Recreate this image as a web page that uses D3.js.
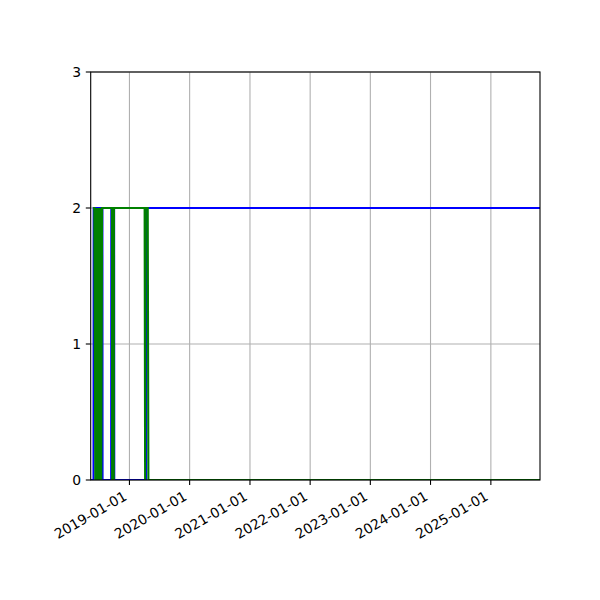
<!DOCTYPE html>
<html>
<head>
<meta charset="utf-8">
<script src="https://cdn.jsdelivr.net/npm/d3@7"></script>
<style>
  body { margin: 0; background: #fff; }
  svg text { font-family: "DejaVu Sans", sans-serif; font-size: 13.9px; fill: #000; }
</style>
</head>
<body>
<div id="chart"></div>
<script>
// ─── DATA ──────────────────────────────────────────────────────
const blueDates = ["2018-05-01", "2018-05-28", "2018-05-29", "2018-07-21", "2018-07-22",
                   "2018-09-12", "2018-09-13", "2018-09-30", "2018-10-01",
                   "2019-04-13", "2019-04-15", "2025-12-31"];
const blueValues = [0, 0, 2, 2, 0, 0, 2, 2, 0, 0, 2, 2];

const greenDates = ["2018-05-25", "2018-06-02", "2018-06-08", "2018-06-14", "2018-06-20",
                    "2018-06-26", "2018-07-02", "2018-07-08", "2018-07-14", "2018-07-19",
                    "2018-09-17", "2018-09-18", "2018-09-28", "2018-09-29",
                    "2019-04-03", "2019-04-06", "2019-04-09", "2019-04-22", "2019-04-26",
                    "2025-12-31"];
const greenValues = [2, 2, 0, 2, 0, 2, 0, 2, 0, 2, 2, 0, 0, 2, 2, 0, 2, 2, 0, 0];

const xDomain = ["2018-05-11", "2025-10-26"];
const xTickDates = ["2019-01-01", "2020-01-01", "2021-01-01", "2022-01-01",
                    "2023-01-01", "2024-01-01", "2025-01-01"];
const yTicks = [0, 1, 2, 3];

const width = 600, height = 600;
const plotLeft = 90.7, plotRight = 540, plotTop = 72, plotBottom = 480;

const parse = d3.utcParse("%Y-%m-%d");
const fmt = d3.utcFormat("%Y-%m-%d");

const svg = d3.select("#chart")
    .append("svg")
    .attr("width", width)
    .attr("height", height)
    .style("background", "#fff");

const x = d3.scaleUtc()
    .domain(xDomain.map(parse))
    .range([plotLeft, plotRight]);

const y = d3.scaleLinear()
    .domain([0, 3])
    .range([plotBottom, plotTop]);

svg.append("defs").append("clipPath")
    .attr("id", "plotClip")
    .append("rect")
    .attr("x", plotLeft).attr("y", plotTop)
    .attr("width", plotRight - plotLeft).attr("height", plotBottom - plotTop);

// ─── GRID ─────────────────────────────────────────────────────
const grid = svg.append("g");
grid.selectAll(".vgrid")
    .data(xTickDates.map(parse))
    .enter().append("line")
    .attr("x1", d => x(d)).attr("x2", d => x(d))
    .attr("y1", plotTop).attr("y2", plotBottom)
    .attr("stroke", "#b0b0b0")
    .attr("stroke-width", 1.1);
grid.selectAll(".hgrid")
    .data(yTicks)
    .enter().append("line")
    .attr("x1", plotLeft).attr("x2", plotRight)
    .attr("y1", d => y(d)).attr("y2", d => y(d))
    .attr("stroke", "#b0b0b0")
    .attr("stroke-width", 1.1);

// ─── SERIES ───────────────────────────────────────────────────
const line = d3.line()
    .x(d => x(d[0]))
    .y(d => y(d[1]));

const blueData = blueDates.map((d, i) => [parse(d), blueValues[i]]);
const greenData = greenDates.map((d, i) => [parse(d), greenValues[i]]);

const plot = svg.append("g").attr("clip-path", "url(#plotClip)");
plot.append("path")
    .datum(blueData)
    .attr("d", line)
    .attr("fill", "none")
    .attr("stroke", "#0000ff")
    .attr("stroke-width", 2.08);
plot.append("path")
    .datum(greenData)
    .attr("d", line)
    .attr("fill", "none")
    .attr("stroke", "#008000")
    .attr("stroke-width", 2.08);

// ─── SPINES ───────────────────────────────────────────────────
svg.append("rect")
    .attr("x", plotLeft).attr("y", plotTop)
    .attr("width", plotRight - plotLeft).attr("height", plotBottom - plotTop)
    .attr("fill", "none")
    .attr("stroke", "#000")
    .attr("stroke-width", 1.1);

// ─── X AXIS TICKS + ROTATED LABELS ────────────────────────────
const xt = svg.append("g");
xTickDates.map(parse).forEach(d => {
    const px = x(d);
    xt.append("line")
        .attr("x1", px).attr("x2", px)
        .attr("y1", plotBottom).attr("y2", plotBottom + 4.9)
        .attr("stroke", "#000").attr("stroke-width", 1.1);
    const ax = px - 1.6, ay = 499;
    xt.append("text")
        .attr("x", ax).attr("y", ay)
        .attr("text-anchor", "end")
        .attr("transform", `rotate(-30,${ax},${ay})`)
        .text(fmt(d));
});

// ─── Y AXIS TICKS + LABELS ────────────────────────────────────
const yt = svg.append("g");
yTicks.forEach(v => {
    yt.append("line")
        .attr("x1", plotLeft - 4.9).attr("x2", plotLeft)
        .attr("y1", y(v)).attr("y2", y(v))
        .attr("stroke", "#000").attr("stroke-width", 1.1);
    yt.append("text")
        .attr("x", plotLeft - 9.7)
        .attr("y", y(v))
        .attr("dy", "0.36em")
        .attr("text-anchor", "end")
        .text(v);
});
</script>
</body>
</html>
